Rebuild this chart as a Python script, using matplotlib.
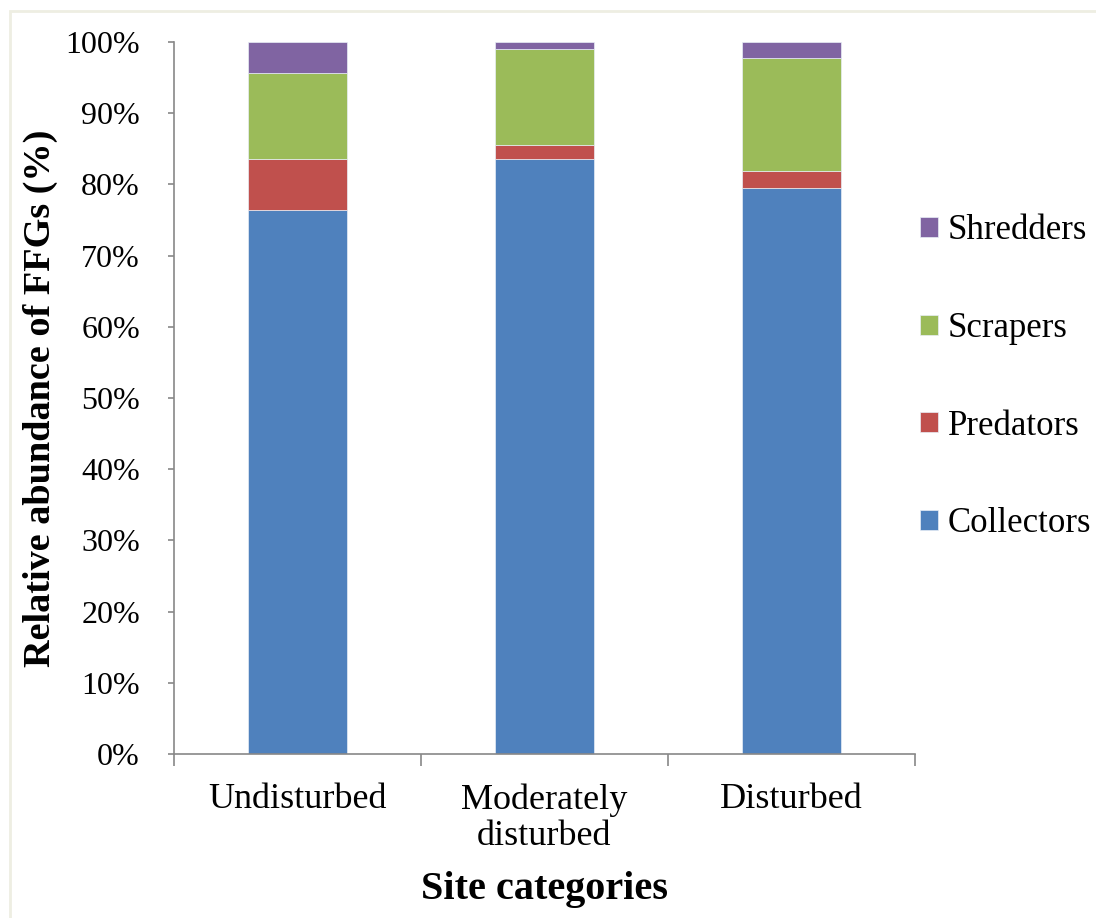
import matplotlib.pyplot as plt
from matplotlib.patches import Rectangle
from matplotlib.ticker import FuncFormatter
import numpy as np

# functional feeding group shares (%) per site category
sites = ['Undisturbed', 'Moderately\ndisturbed', 'Disturbed']
collectors = [76.4, 83.5, 79.5]
predators = [7.1, 2.0, 2.4]
scrapers = [12.1, 13.5, 15.9]
shredders = [4.4, 1.0, 2.2]

groups = ['Collectors', 'Predators', 'Scrapers', 'Shredders']
colors = ['#4F81BD', '#C0504D', '#9BBB59', '#8064A2']

plt.rcParams['font.family'] = ['Liberation Serif', 'DejaVu Serif']

fig = plt.figure(figsize=(10.96, 9.18), dpi=100)
ax = fig.add_axes([174/1096, 164/918, 741/1096, 712/918])

# faint chart-area frame
fig.patches.append(Rectangle((10/1096, -0.1), 1.1, 1 - 11/918 + 0.1,
                             transform=fig.transFigure, fill=False,
                             edgecolor='#EEEEE2', linewidth=2))

x = np.arange(len(sites))
bottom = np.zeros(len(sites))
for name, vals, c in zip(groups, [collectors, predators, scrapers, shredders], colors):
  ax.bar(x, vals, width=0.4, bottom=bottom, color=c, label=name,
         edgecolor='#E8EEF6', linewidth=0.5)
  bottom += np.array(vals)

ax.set_xlim(-0.5, 2.5)
ax.set_ylim(0, 100)
ax.set_yticks(np.arange(0, 101, 10))
ax.yaxis.set_major_formatter(FuncFormatter(lambda v, p: '%d%%' % v))
ax.set_xticks(x)
ax.set_xticklabels(sites, fontsize=26, linespacing=1.12)
ax.set_xticks([-0.5, 0.5, 1.5, 2.5], minor=True)
ax.tick_params(axis='x', which='major', length=0, pad=21)
ax.tick_params(axis='x', which='minor', length=8.6, width=1.2, color='#888888')
ax.tick_params(axis='y', labelsize=23, length=4.5, width=1.2, color='#888888', pad=20)

for s in ['top', 'right']:
  ax.spines[s].set_visible(False)
for s in ['left', 'bottom']:
  ax.spines[s].set_color('#888888')
  ax.spines[s].set_linewidth(1.2)

ax.set_ylabel('Relative abundance of FFGs (%)', fontsize=27.5, fontweight='bold')
ax.yaxis.set_label_coords(-0.157, 0.5)
ax.set_xlabel('Site categories', fontsize=29, fontweight='bold', labelpad=13)

handles, labels = ax.get_legend_handles_labels()
ax.legend(handles[::-1], labels[::-1], loc='center left', bbox_to_anchor=(1.007, 0.529),
          frameon=False, fontsize=25, handlelength=0.5, handleheight=0.5,
          handletextpad=0.3, labelspacing=1.86, borderpad=0, borderaxespad=0)

fig.savefig('out.png', dpi=100)
